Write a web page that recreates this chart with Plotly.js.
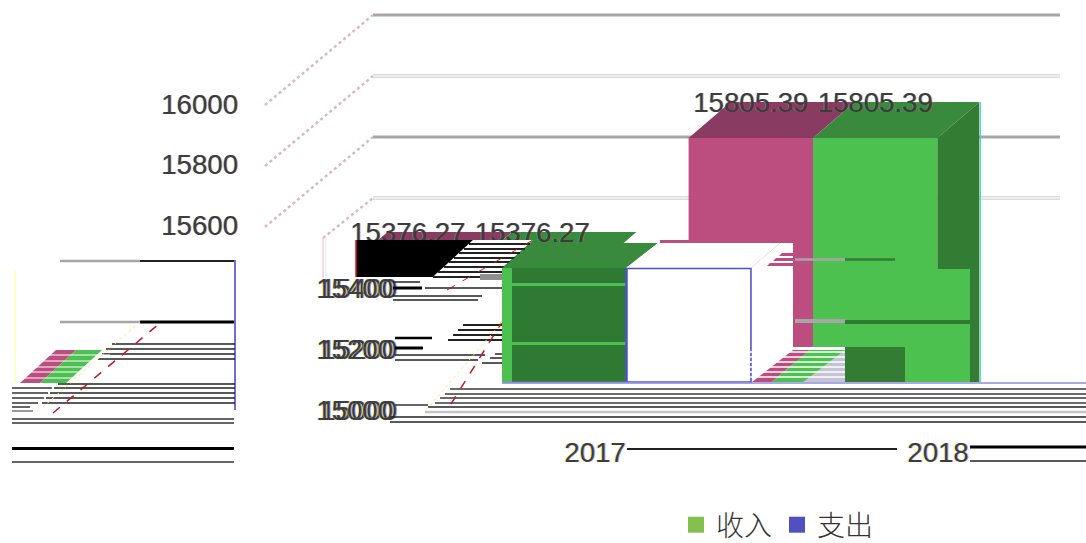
<!DOCTYPE html>
<html><head><meta charset="utf-8">
<script src="https://cdn.plot.ly/plotly-3.0.1.min.js"></script>
<style>html,body{margin:0;padding:0;background:#fff}#c{width:1086px;height:543px}</style>
</head><body><div id="c"></div>
<script>
// ---- data ----
const years = ['2017', '2018'];
const income = [15376.27, 15805.39];
const expense = [15376.27, 15805.39];
const seriesNames = ['收入', '支出'];
const upperTicks = [15600, 15800, 16000];
const lowerTicks = [15000, 15200, 15400];
const wallGridStrong = [16000, 15600];
const wallGridLight = [15800, 15400];

// ---- geometry ----
const W = 1086, H = 543;
const baseVal = 15000, pxPerVal = 0.303, baseY = 382, groupX0 = 470, groupStep = 343;
const X = p => (p - groupX0) / groupStep;
const Y = p => baseVal + (baseY - p) / pxPerVal;
const barW = 124.4 / groupStep, depthX = 42 / groupStep, depthV = 36 / pxPerVal, labelLift = 33 / pxPerVal;
const ghostShift = 157 / groupStep;
const wallPx = 0.305, wallTop = 15;
const FONT = 'Liberation Sans, sans-serif', TXT = '#3c3c3c', FS = 27.6;
const FRINGE_A = '1px 0 0 rgba(255,30,30,0.35), -1px 0 0 rgba(0,220,220,0.35)';
const FRINGE_B = '1px 0 0 rgba(60,60,230,0.4), -1px 0 0 rgba(240,230,60,0.5)';

const PINK = '#bc4e7f', PINKD = '#8a3b62', GREEN = '#4cc150', GREEND = '#398a3c', GREEND2 = '#327c34', BLUE = '#5050c8';

// ---- traces ----
const traces = [];
const bar = (x, v, color, line) => ({type: 'bar', x: [x], y: [v - baseVal], base: [baseVal], width: [barW],
  marker: {color, line: line || {width: 0}}, showlegend: false, hoverinfo: 'skip'});
const face = (xs, ys, color) => ({type: 'scatter', mode: 'lines', x: xs.concat(xs[0]), y: ys.concat(ys[0]), fill: 'toself',
  fillcolor: color, line: {width: 0, color}, showlegend: false, hoverinfo: 'skip'});
const topFace = (x0, v, color, dx, dv) => face([x0, x0 + barW, x0 + barW + dx, x0 + dx], [v, v, v + dv, v + dv], color);

// 2018 group
traces.push(bar(1 - barW / 2, income[1], PINK));
traces.push(bar(1 + barW / 2, expense[1], GREEN));
// displaced copy of the 2017 group
traces.push(bar(0 - barW / 2 + ghostShift, income[0], '#2f7a33'));
traces.push(bar(0 + barW / 2 + ghostShift, expense[0], '#ffffff', {width: 1.5, color: BLUE}));

// top faces of the 2017 group
traces.push(topFace(-barW, income[0], PINKD, depthX, depthV));
traces.push(topFace(0, expense[0], GREEND, depthX, depthV));
// 2018 top / side
traces.push(topFace(-barW + 1, income[1], PINKD, depthX, depthV));
traces.push(topFace(1, expense[1], GREEND, depthX, depthV));
traces.push(face([1 + barW, 1 + barW + depthX, 1 + barW + depthX, 1 + barW],
  [expense[1], expense[1] + depthV, baseVal, baseVal], GREEND2));

// data labels
traces.push({type: 'scatter', mode: 'text', cliponaxis: false, showlegend: false, hoverinfo: 'skip',
  x: [-barW / 2, barW / 2, 1 - barW / 2, 1 + barW / 2],
  y: [income[0] + labelLift, expense[0] + labelLift, income[1] + labelLift, expense[1] + labelLift],
  text: [income[0], expense[0], income[1], expense[1]].map(v => v.toFixed(2)),
  textposition: 'middle center', textfont: {family: FONT, size: FS, color: TXT, shadow: FRINGE_A}});

// legend entries
traces.push({type: 'scatter', mode: 'markers', x: [null], y: [null], name: seriesNames[0], marker: {symbol: 'square', size: 16, color: '#84c050'}});
traces.push({type: 'scatter', mode: 'markers', x: [null], y: [null], name: seriesNames[1], marker: {symbol: 'square', size: 16, color: '#5050c0'}});

// ---- shapes ----
const sx = p => p / W, sy = p => 1 - p / H;
const shapes = [];
const pl = (x0, y0, x1, y1, color, width, dash, layer) => shapes.push({type: 'line', xref: 'paper', yref: 'paper',
  x0: sx(x0), x1: sx(x1), y0: sy(y0), y1: sy(y1), line: {color, width: width || 1, dash: dash || 'solid'}, layer: layer || 'above'});
const pr = (x0, y0, x1, y1, color, layer) => shapes.push({type: 'rect', xref: 'paper', yref: 'paper',
  x0: sx(x0), x1: sx(x1), y0: sy(y0), y1: sy(y1), fillcolor: color, line: {width: 0}, layer: layer || 'above'});
const poly = (pts, color, layer) => shapes.push({type: 'path', xref: 'paper', yref: 'paper',
  path: 'M' + pts.map(q => sx(q[0]) + ',' + sy(q[1])).join('L') + 'Z', fillcolor: color, line: {width: 0}, layer: layer || 'above'});

// back wall grid through its own value axis
const wallLine = (v, color, width) => shapes.push({type: 'line', xref: 'paper', x0: 373 / W, x1: 1060 / W, yref: 'y2', y0: v, y1: v,
  line: {color, width}, layer: 'below'});
wallGridStrong.forEach(v => wallLine(v, '#a6a6a6', 3));
wallGridLight.forEach(v => { wallLine(v, '#dcdcdc', 4); wallLine(v, '#ffffff', 1); });
// diagonals from front edge to the wall
const wallY = v => wallTop + (16000 - v) * wallPx;
upperTicks.forEach(v => pl(265, wallY(v) + 90, 373, wallY(v), '#dcb8c0', 2.5, 'dot', 'below'));
pl(323, 238, 373, 198, '#dcb8c0', 2.5, 'dot', 'below');
pl(323, 238, 323, 278, '#f0b8c0', 1, 'solid', 'below');
pl(326, 238, 326, 278, '#d8f0f0', 1, 'solid', 'below');

// ---- broken raster pieces of the source image ----
[[450, 389], [445, 394], [440, 398], [435, 403]].forEach(a => pl(a[0], a[1], W, a[1], '#3a3a3a', 1.5));
pl(428, 407, W, 407, '#222', 1.5);
pl(425, 412, W, 412, '#c4c4c4', 2.5);
pl(390, 417, W, 417, '#222', 1.5);
pl(390, 422, W, 422, '#222', 1.5);
pl(395, 405, 428, 405, '#333', 1.5);
pl(502, 383, W, 383, '#8c8ce0', 1.5);

poly([[346, 240], [473, 240], [433, 277], [346, 277]], '#000');
poly([[346, 240], [356, 240], [356, 277], [346, 277]], '#fff');
pl(356, 240, 356, 277, '#e01020', 1.5);
poly([[473, 240], [533, 240], [502, 268], [502, 300], [433, 300], [433, 277]], '#fff');
[[244, 469, 530], [249, 464, 525], [253, 459, 520], [258, 454, 515], [262, 449, 510], [267, 444, 505], [272, 438, 502], [277, 433, 502]]
  .forEach(a => pl(a[1], a[0], a[2], a[0], '#222', 2));
pr(480, 274, 502, 280, '#8f8f8f');
pl(393, 282, 420, 282, '#222', 1.5);
pl(393, 288, 422, 288, '#000', 3);
pl(425, 288, 502, 288, '#222', 1.5);
pl(393, 296, 482, 296, '#222', 1.5);
pl(393, 300, 478, 300, '#222', 1.5);
[[325, 463], [330, 458], [335, 453], [340, 448]].forEach(a => pl(a[1], a[0], 502, a[0], '#222', 2));
pl(395, 338, 432, 338, '#000', 2.5);
pl(395, 348, 423, 348, '#000', 3);
pl(395, 355, 485, 355, '#222', 1.5);
pl(395, 360, 478, 360, '#222', 1.5);
[[354, 495], [358, 490], [363, 482]].forEach(a => pl(a[1], a[0], 502, a[0], '#222', 1.5));
pl(451, 404, 502, 322, '#c01828', 1.5, 'dash');
pl(426, 410, 502, 322, '#f4f070', 1, 'dot');
pl(447, 290, 533, 240, '#c01828', 1, 'dash');

pr(502, 268, 512, 382, GREEN);
pr(502, 283, 626, 286, GREEN);
pr(502, 342, 626, 345, GREEN);
poly([[502, 268], [626, 268], [658, 243], [533, 243]], GREEND);
poly([[626, 268], [751, 268], [780, 243], [658, 243]], '#fff');
poly([[751, 268], [780, 243], [793, 243], [793, 382], [751, 382]], '#fff');
pl(626, 268.5, 751, 268.5, BLUE, 1.5);
pl(751, 268, 751, 382, BLUE, 1.5);
pl(626, 268, 626, 382, BLUE, 1.5);
pl(502, 382.5, 751, 382.5, '#8c8ce0', 1.5);
[253, 258, 263].forEach((y, i) => poly([[782 - i * 6, y], [793, y], [793, y + 3], [779 - i * 6, y + 3]], PINK));
pr(660, 240, 700, 243, PINK);

pr(813, 262, 917, 270, GREEN);
pr(813, 269, 970, 382, GREEN);
pr(845, 320, 970, 324, '#2f7a33');
pr(845, 347, 905, 382, '#327c34');
pl(795, 321, 845, 321, '#a6a6a6', 4);
pl(795, 259.5, 845, 259.5, '#a6a6a6', 2.5);
pl(845, 259.5, 895, 259.5, '#327c34', 2.5);
pl(980.5, 102, 980.5, 382, '#40e0e0', 1);
pr(793, 347, 845, 350, '#fff');
poly([[752, 382], [772, 382], [809, 350], [793, 350]], PINK);
poly([[772, 382], [803, 382], [845, 350], [809, 350]], GREEN);
poly([[803, 382], [845, 382], [845, 350]], '#c4c4d4');
[352, 357, 362, 367, 372, 377].forEach(y => pl(750, y, 845, y, '#ffffff', 1.5));

pl(60, 261, 140, 261, '#a6a6a6', 2.5); pl(140, 261, 235, 261, '#222', 2);
pl(60, 322, 140, 322, '#a6a6a6', 2.5); pl(140, 322, 235, 322, '#000', 3);
pl(235, 260, 235, 410, '#7070d0', 2);
pl(15, 270, 15, 382, '#ffffb0', 1.5);
[[344, 112], [349, 106], [354, 102], [359, 98]].forEach(a => pl(a[1], a[0], 235, a[0], '#222', 1.5));
[[384, 58], [388, 54], [393, 50], [398, 46], [403, 42]].forEach(a => pl(a[1], a[0], 235, a[0], '#222', 1.5));
[[388, 52], [393, 48], [398, 44], [403, 38], [407, 30]].forEach(a => pl(12, a[0], a[1], a[0], '#333', 1.5));
pl(12, 411, 33, 411, '#999', 2);
pl(12, 419, 234, 419, '#333', 1.5);
pl(12, 423, 234, 423, '#333', 1.5);
pl(12, 448.5, 234, 448.5, '#000', 3);
pl(12, 462, 234, 462, '#333', 1.5);
poly([[56, 350], [76, 350], [40, 383], [20, 383]], PINK);
poly([[76, 350], [102, 350], [66, 383], [40, 383]], GREEN);
[355, 361, 367, 372, 378].forEach(y => pl(15, y, 110, y, '#ffffff', 1.2));
pl(53, 413, 160, 323, '#c01828', 1.5, 'dash');
pl(43, 407, 140, 322, '#f4f070', 1, 'dot');

pl(627, 449, 897, 449, '#222', 2);
pl(970, 447, W, 447, '#000', 3);
pl(970, 461, W, 461, '#222', 1.5);

// ---- layout ----
const yRange = [Y(H), Y(0)];
const valAxis = (ticks, posPx, shadow, shift) => ({
  range: yRange, domain: [0, 1], anchor: 'free', position: posPx / W, side: 'left', overlaying: 'y',
  tickmode: 'array', tickvals: ticks, ticktext: ticks.map(String), ticks: '', showgrid: false, zeroline: false, showline: false,
  tickfont: {family: FONT, size: FS, color: TXT, shadow}, ticklabelshift: shift, fixedrange: true
});
const mainY = valAxis(upperTicks, 238, FRINGE_A, 25);
delete mainY.overlaying;

const layout = {
  width: W, height: H, margin: {l: 0, r: 0, t: 0, b: 0, pad: 0, autoexpand: false},
  paper_bgcolor: '#fff', plot_bgcolor: 'rgba(0,0,0,0)', barmode: 'overlay',
  showlegend: true,
  legend: {orientation: 'h', x: 676 / W, xanchor: 'left', y: 1 - 500 / H, yanchor: 'top',
    font: {family: 'Noto Sans CJK SC', size: 28, color: '#333', weight: 300}, itemwidth: 30, bgcolor: 'rgba(0,0,0,0)', traceorder: 'normal'},
  xaxis: {range: [X(0), X(W)], domain: [0, 1], anchor: 'free', position: 1 - 433 / H, tickmode: 'array', tickvals: [0, 1], ticktext: years,
    ticks: '', showgrid: false, zeroline: false, showline: false, ticklabelshift: 125,
    tickfont: {family: FONT, size: FS, color: TXT, shadow: FRINGE_B}, fixedrange: true},
  yaxis: mainY,
  yaxis2: {range: [16000 - (H - wallTop) / wallPx, 16000 + wallTop / wallPx], domain: [0, 1], overlaying: 'y', visible: false, fixedrange: true, anchor: 'x'},
  yaxis3: valAxis(lowerTicks, 397, FRINGE_B, 28),
  yaxis4: valAxis(lowerTicks, 393, FRINGE_B, 28),
  shapes
};
['y2', 'y3', 'y4'].forEach(a => traces.push({type: 'scatter', mode: 'none', x: [null], y: [null], yaxis: a, showlegend: false, hoverinfo: 'skip'}));

Plotly.newPlot('c', traces, layout, {displayModeBar: false, staticPlot: true});
</script></body></html>
